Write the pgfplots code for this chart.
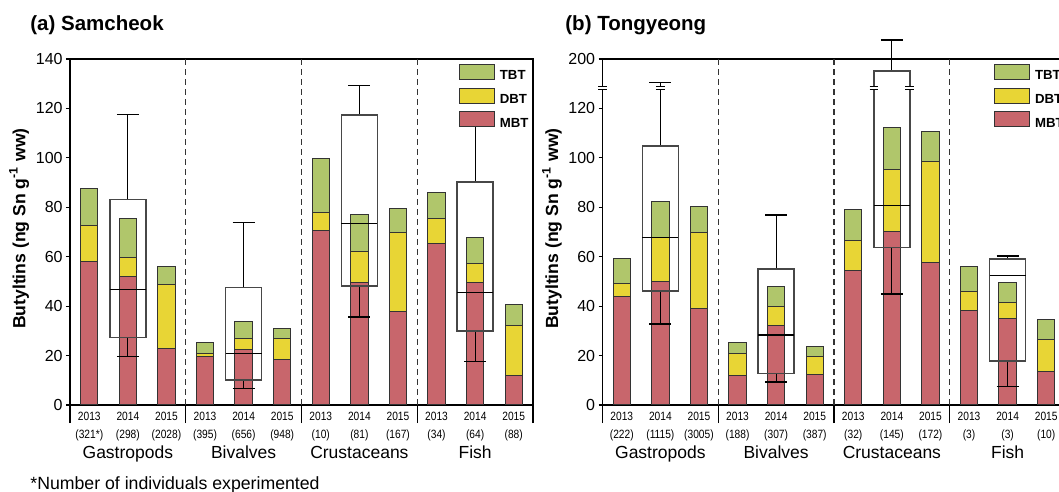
\documentclass[border=0pt]{standalone}
\usepackage{fontspec}
\setmainfont{Liberation Sans}
\newfontfamily\narrowfont[FakeStretch=0.85]{Liberation Sans}
\usepackage{pgfplots}
\usepackage{pgfplotstable}
\pgfplotsset{compat=1.18}
\usepgfplotslibrary{statistics}

\definecolor{tbt}{HTML}{B0C66B}
\definecolor{dbt}{HTML}{E8D535}
\definecolor{mbt}{HTML}{C8666C}

% cumulative tops: MBT, MBT+DBT, total
\pgfplotstableread{
x mbt dbt tot
0 58.0 72.5 87.5
1 52.0 59.5 75.5
2 22.7 48.6 56.0
3 19.8 21.0 25.2
4 22.5 26.9 33.7
5 18.3 26.8 31.0
6 70.5 77.7 99.6
7 49.7 62.0 77.2
8 37.8 69.8 79.4
9 65.5 75.5 86.1
10 49.6 57.2 67.7
11 12.0 32.0 40.7
}\dataA

\pgfplotstableread{
x mbt dbt tot
0 44.1 49.0 59.4
1 49.8 67.7 82.5
2 39.1 69.9 80.3
3 12.1 20.9 25.4
4 32.0 40.0 47.9
5 12.3 19.7 23.6
6 54.5 66.4 79.2
7 70.4 95.1 112.1
8 57.8 98.7 110.8
9 38.3 45.9 56.0
10 35.1 41.6 49.7
11 13.6 26.7 34.5
}\dataB

\pgfplotsset{
  panel/.style={
    scale only axis, width=231.5pt, height=173pt,
    anchor=south west,
    xmin=-0.5, xmax=11.5, ymin=0,
    clip=false,
    axis line style={black, line width=0.6pt},
    tick align=outside, tick pos=left,
    major tick length=2pt,
    tick style={black, line width=0.6pt},
    xtick={0,...,11},
    xtick style={draw=none},
    minor xtick={-0.5,11.5},
    minor tick length=9pt,
    minor x tick style={draw=black, line width=0.6pt},
    extra x ticks={2.5,5.5,8.5},
    extra x tick labels={},
    extra x tick style={grid=major, major tick length=9pt, xtick style={draw=black, line width=0.6pt}},
    major grid style={dash pattern=on 3pt off 2pt, black!80, line width=0.7pt},
    xticklabel style={font=\narrowfont\fontsize{6}{9}\selectfont, align=center, anchor=north, inner sep=0pt, yshift=-1.5pt},
    yticklabel style={font=\fontsize{8}{9.6}\selectfont, anchor=east, inner sep=0pt, xshift=-1.5pt},
    /pgf/number format/assume math mode=true,
    ylabel={\bfseries Butyltins (ng Sn g\textsuperscript{-1} ww)},
    ylabel style={font=\fontsize{8.8}{10}\selectfont, at={(axis description cs:-0.110,0.51)}, anchor=center},
    title style={font=\bfseries\fontsize{10.25}{12}\selectfont, anchor=base west, inner sep=0pt, yshift=0pt},
    every axis title shift=0pt,
    legend image code/.code={\draw[#1, draw=black!80, line width=0.5pt] (0pt,-1.4pt) rectangle (17.5pt,6.1pt);},
    legend style={draw=none, fill=none, inner sep=0pt, outer sep=0pt, anchor=north west,
      font=\bfseries\fontsize{6.6}{7}\selectfont, row sep=2.5pt, nodes={inner sep=0pt},
      /tikz/every odd column/.append style={column sep=2.5pt}},
    legend cell align=left,
  },
  barsty/.style={ybar, bar width=0.45, bar shift=0, draw=black!80, line width=0.5pt},
  boxsty/.style={forget plot, draw=black!72, line width=0.8pt, solid, mark=none,
    /pgfplots/boxplot/draw direction=y,
    /pgfplots/boxplot/box extend=0.93,
    /pgfplots/boxplot/whisker extend=0.57,
    /pgfplots/boxplot/every whisker/.style={black, line width=0.6pt},
    /pgfplots/boxplot/every median/.style={black, line width=0.6pt}},
}
\tikzset{catlabel/.style={anchor=base, yshift=-27pt, font=\fontsize{8.75}{10}\selectfont, inner sep=0pt}}

\begin{document}
\begin{tikzpicture}
\useasboundingbox (0,0) rectangle (529.5pt,246pt);

% ---------------- (a) Samcheok ----------------
\begin{axis}[panel, at={(35pt,43.5pt)},
  ymax=140, ytick={0,20,...,140},
  title={(a) Samcheok}, title style={at={(axis description cs:-0.0864,1.081)}},
  legend style={at={(axis description cs:0.840,0.9855)}},
  xticklabels={{2013\\(321*)},{2014\\(298)},{2015\\(2028)},{2013\\(395)},{2014\\(656)},{2015\\(948)},{2013\\(10)},{2014\\(81)},{2015\\(167)},{2013\\(34)},{2014\\(64)},{2015\\(88)}},
]
\addplot[barsty, fill=tbt] table[x=x,y=tot]{\dataA};
\addplot[barsty, fill=dbt] table[x=x,y=dbt]{\dataA};
\addplot[barsty, fill=mbt] table[x=x,y=mbt]{\dataA};
\legend{TBT,DBT,MBT}
\addplot[boxsty, boxplot prepared={draw position=1,
  lower whisker=19.6, lower quartile=27.3, median=46.6, upper quartile=83.1, upper whisker=117.5}] coordinates {};
\addplot[boxsty, boxplot prepared={draw position=4,
  lower whisker=6.6, lower quartile=10.1, median=20.8, upper quartile=47.5, upper whisker=73.8}] coordinates {};
\addplot[boxsty, boxplot prepared={draw position=7,
  lower whisker=35.6, lower quartile=48.2, median=73.6, upper quartile=117.3, upper whisker=129.3}] coordinates {};
\addplot[boxsty, boxplot prepared={draw position=10,
  lower whisker=17.6, lower quartile=30.0, median=45.5, upper quartile=90.3, upper whisker=113.8}] coordinates {};
\node[catlabel] at (axis cs:1,0) {Gastropods};
\node[catlabel] at (axis cs:4,0) {Bivalves};
\node[catlabel] at (axis cs:7,0) {Crustaceans};
\node[catlabel] at (axis cs:10,0) {Fish};
\end{axis}

% ---------------- (b) Tongyeong ----------------
\begin{axis}[panel, at={(301.25pt,43.5pt)},
  y coord trafo/.code={\def\tmparg{#1}\ifx\tmparg\empty\def\pgfmathresult{}\else\pgfmathparse{#1>128?128+(#1-128)/6:#1}\fi},
  y coord inv trafo/.code={\def\tmparg{#1}\ifx\tmparg\empty\def\pgfmathresult{}\else\pgfmathparse{#1>128?128+(#1-128)*6:#1}\fi},
  ymax=200, ytick={0,20,40,60,80,100,120,200}, yticklabels={0,20,40,60,80,100,120,200},
  ylabel style={at={(axis description cs:-0.109,0.51)}},
  title={(b) Tongyeong}, title style={at={(axis description cs:-0.081,1.081)}},
  legend style={at={(axis description cs:0.8456,0.9855)}},
  xticklabels={{2013\\(222)},{2014\\(1115)},{2015\\(3005)},{2013\\(188)},{2014\\(307)},{2015\\(387)},{2013\\(32)},{2014\\(145)},{2015\\(172)},{2013\\(3)},{2014\\(3)},{2015\\(10)}},
]
\addplot[barsty, fill=tbt] table[x=x,y=tot]{\dataB};
\addplot[barsty, fill=dbt] table[x=x,y=dbt]{\dataB};
\addplot[barsty, fill=mbt] table[x=x,y=mbt]{\dataB};
\legend{TBT,DBT,MBT}
\addplot[boxsty, boxplot prepared={draw position=1,
  lower whisker=32.8, lower quartile=46.2, median=67.9, upper quartile=104.9, upper whisker=142.4}] coordinates {};
\addplot[boxsty, boxplot prepared={draw position=4,
  lower whisker=9.3, lower quartile=12.8, median=28.3, upper quartile=55.1, upper whisker=76.9}] coordinates {};
\addplot[boxsty, boxplot prepared={draw position=7,
  lower whisker=44.9, lower quartile=63.8, median=80.8, upper quartile=171, upper whisker=246}] coordinates {};
\addplot[boxsty, boxplot prepared={draw position=10,
  lower whisker=7.6, lower quartile=17.7, median=52.3, upper quartile=59.0, upper whisker=60.3}] coordinates {};
\node[catlabel] at (axis cs:1,0) {Gastropods};
\node[catlabel] at (axis cs:4,0) {Bivalves};
\node[catlabel] at (axis cs:7,0) {Crustaceans};
\node[catlabel] at (axis cs:10,0) {Fish};
\coordinate (y1) at (axis cs:-0.5,127.6);
\coordinate (y2) at (axis cs:-0.5,132.8);
\coordinate (g1) at (axis cs:1,127.6);
\coordinate (g2) at (axis cs:1,132.8);
\coordinate (c1) at (axis cs:6.535,127.6);
\coordinate (c2) at (axis cs:6.535,132.8);
\coordinate (d1) at (axis cs:7.465,127.6);
\coordinate (d2) at (axis cs:7.465,132.8);
\end{axis}
\foreach \n in {y,g,c,d}{
  \fill[white] ([xshift=-2.5pt]\n1) rectangle ([xshift=2.5pt]\n2);
  \draw[black, line width=0.6pt] ([xshift=-2.2pt]\n1) -- ([xshift=2.2pt]\n1) ([xshift=-2.2pt]\n2) -- ([xshift=2.2pt]\n2);
}

\node[anchor=base west, font=\fontsize{8.85}{10}\selectfont, inner sep=0pt] at (15pt,1.5pt) {*Number of individuals experimented};
\end{tikzpicture}
\end{document}
